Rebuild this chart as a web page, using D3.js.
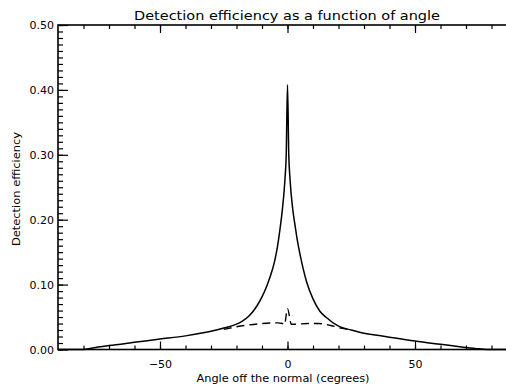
<!DOCTYPE html>
<html>
<head>
<meta charset="utf-8">
<script src="https://cdn.jsdelivr.net/npm/d3@7"></script>
<style>
  body { margin: 0; background: #fff; }
  text { font-family: "DejaVu Sans", sans-serif; fill: #000; }
</style>
</head>
<body>
<svg id="chart"></svg>
<script>
// solid curve: total detection efficiency vs angle (deg)
const angles = [-90, -80, -77, -70, -60, -50, -40, -30, -25, -20, -18, -15, -12, -10, -8, -6, -5, -4, -3, -2, -1, -0.5, 0,
  0.5, 1, 2, 3, 4, 5, 6, 7.5, 10, 12.7, 15, 20, 25, 30, 36, 40, 50, 60, 69, 75, 78, 90];
const solidValues = [0.000, 0.000, 0.002, 0.006, 0.011, 0.016, 0.021, 0.028, 0.033, 0.039, 0.043, 0.052, 0.067, 0.081, 0.099, 0.122, 0.137, 0.157, 0.184, 0.216, 0.262, 0.300, 0.408,
  0.300, 0.262, 0.218, 0.190, 0.165, 0.145, 0.127, 0.104, 0.078, 0.059, 0.050, 0.036, 0.030, 0.025, 0.0215, 0.019, 0.013, 0.008, 0.0036, 0.001, 0.000, 0.000];

// dashed curve
const dashedAngles = [-25, -20, -15, -10, -4, -2, -1.2, 0, 1.5, 3, 8, 12, 17, 21, 25];
const dashedValues = [0.031, 0.035, 0.038, 0.040, 0.041, 0.040, 0.038, 0.063, 0.039, 0.039, 0.040, 0.040, 0.037, 0.033, 0.030];

const xMajor = [-50, 0, 50];
const xMinor = d3.range(-80, 90, 10);
const yMajor = [0, 0.1, 0.2, 0.3, 0.4, 0.5];
const yMinor = d3.range(0, 0.501, 0.01);

const width = 506, height = 387;
const margin = {left: 58, top: 25, right: -11, bottom: 37.5};

const svg = d3.select("#chart")
  .attr("width", width)
  .attr("height", height);

const x = d3.scaleLinear().domain([-90, 90]).range([margin.left, width - margin.right]);
const y = d3.scaleLinear().domain([0, 0.5]).range([height - margin.bottom, margin.top]);

// axes, ticks inward like IDL
svg.append("g")
  .attr("transform", `translate(${margin.left},0)`)
  .call(d3.axisLeft(y).tickValues(yMinor).tickSize(-5).tickFormat(""))
  .call(g => g.select(".domain").remove());
svg.append("g")
  .attr("transform", `translate(${margin.left},0)`)
  .call(d3.axisLeft(y).tickValues(yMajor).tickSize(-10).tickPadding(4).tickFormat(d3.format(".2f")))
  .call(g => g.select(".domain").remove())
  .call(g => g.selectAll("text").style("font-size", "11px").attr("dy", "0.35em"));

const yBottom = y(0), yTop = y(0.5);
svg.append("g")
  .attr("transform", `translate(0,${yBottom})`)
  .call(d3.axisBottom(x).tickValues(xMinor).tickSize(-4).tickFormat(""))
  .call(g => g.select(".domain").remove());
svg.append("g")
  .attr("transform", `translate(0,${yBottom})`)
  .call(d3.axisBottom(x).tickValues(xMajor).tickSize(-8).tickPadding(18).tickFormat(d3.format("d")))
  .call(g => g.select(".domain").remove())
  .call(g => g.selectAll("text").style("font-size", "11px").attr("dy", "0"));
svg.append("g")
  .attr("transform", `translate(0,${yTop})`)
  .call(d3.axisTop(x).tickValues(xMinor).tickSize(-4).tickFormat(""))
  .call(g => g.select(".domain").remove());
svg.append("g")
  .attr("transform", `translate(0,${yTop})`)
  .call(d3.axisTop(x).tickValues(xMajor).tickSize(-8).tickFormat(""))
  .call(g => g.select(".domain").remove());

svg.selectAll(".tick line").attr("stroke", "#000").attr("stroke-width", 1.2);

// frame
svg.append("rect")
  .attr("x", x(-90)).attr("y", yTop)
  .attr("width", x(90) - x(-90)).attr("height", yBottom - yTop)
  .attr("fill", "none").attr("stroke", "#000").attr("stroke-width", 1.6);

const line = d3.line()
  .x(d => x(d[0]))
  .y(d => y(d[1]))
  .curve(d3.curveMonotoneX);

svg.append("path")
  .datum(angles.map((a, i) => [a, solidValues[i]]))
  .attr("d", line)
  .attr("fill", "none").attr("stroke", "#000").attr("stroke-width", 1.5);

svg.append("path")
  .datum(dashedAngles.map((a, i) => [a, dashedValues[i]]))
  .attr("d", line)
  .attr("fill", "none").attr("stroke", "#000").attr("stroke-width", 1.4)
  .attr("stroke-dasharray", "8,5");

// titles
svg.append("text")
  .attr("x", 287).attr("y", 20)
  .attr("text-anchor", "middle")
  .style("font-size", "13px")
  .attr("textLength", 306).attr("lengthAdjust", "spacingAndGlyphs")
  .text("Detection efficiency as a function of angle");

svg.append("text")
  .attr("x", 283).attr("y", 382)
  .attr("text-anchor", "middle")
  .style("font-size", "10.5px")
  .attr("textLength", 173).attr("lengthAdjust", "spacingAndGlyphs")
  .text("Angle off the normal (cegrees)");

svg.append("text")
  .attr("transform", "translate(20,189) rotate(-90)")
  .attr("text-anchor", "middle")
  .style("font-size", "10.5px")
  .attr("textLength", 114).attr("lengthAdjust", "spacingAndGlyphs")
  .text("Detection efficiency");
</script>
</body>
</html>
